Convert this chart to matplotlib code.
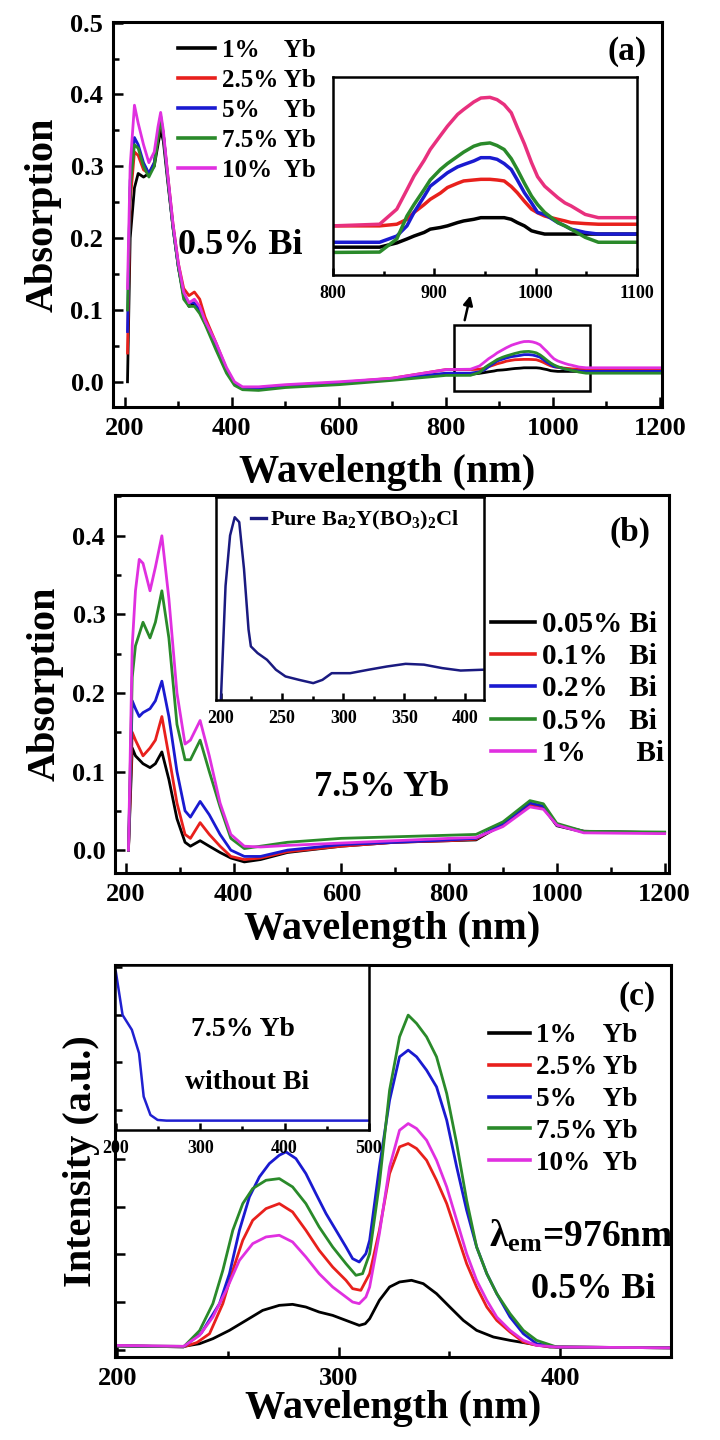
import matplotlib
matplotlib.use("Agg")
import matplotlib.pyplot as plt
from matplotlib.ticker import MultipleLocator, NullFormatter, FormatStrFormatter

plt.rcParams['font.family'] = ['Liberation Serif', 'DejaVu Serif']
plt.rcParams['font.weight'] = 'bold'
plt.rcParams['axes.labelweight'] = 'bold'
plt.rcParams['mathtext.fontset'] = 'custom'
plt.rcParams['mathtext.rm'] = 'Liberation Serif:bold'
plt.rcParams['mathtext.it'] = 'Liberation Serif:italic:bold'
plt.rcParams['mathtext.bf'] = 'Liberation Serif:bold'

# ---------------- panel (a): 0.5% Bi, varying Yb ----------------
wl_a = [205, 210, 218, 225, 235, 245, 255, 262, 267, 272, 280, 290, 300, 310,
        320, 330, 340, 350, 370, 390, 405, 420, 450, 500, 600, 700,
        800, 846, 863, 873, 880, 890, 896, 906, 913, 923, 929, 939, 946, 955,
        962, 969, 976, 982, 989, 996, 1002, 1009, 1022, 1029, 1035, 1049, 1062,
        1100, 1200]
abs_a_1 = [0.0, 0.2, 0.27, 0.29, 0.285, 0.29, 0.3, 0.33, 0.35, 0.335, 0.28, 0.215,
           0.16, 0.12, 0.105, 0.108, 0.1, 0.082, 0.05, 0.015, -0.003, -0.009,
           -0.009, -0.006, -0.002, 0.004,
           0.0105, 0.0105, 0.0118, 0.013, 0.0139, 0.015, 0.016, 0.0165, 0.017,
           0.018, 0.0185, 0.019, 0.0195, 0.0195, 0.0195, 0.0195, 0.019, 0.018,
           0.017, 0.0155, 0.015, 0.0145, 0.0145, 0.0145, 0.0145, 0.0145, 0.0145,
           0.0145, 0.0145]
abs_a_25 = [0.04, 0.25, 0.32, 0.315, 0.295, 0.29, 0.305, 0.34, 0.365, 0.345, 0.29,
            0.22, 0.165, 0.13, 0.12, 0.125, 0.115, 0.09, 0.055, 0.018, -0.002,
            -0.008, -0.008, -0.005, -0.001, 0.005,
            0.017, 0.017, 0.0175, 0.019, 0.0211, 0.0235, 0.0251, 0.027, 0.0287,
            0.03, 0.0307, 0.031, 0.0312, 0.0312, 0.031, 0.0307, 0.029, 0.0271,
            0.0245, 0.0221, 0.021, 0.02, 0.019, 0.0185, 0.018, 0.0177, 0.0175,
            0.0175, 0.0175]
abs_a_5 = [0.07, 0.28, 0.34, 0.33, 0.305, 0.29, 0.305, 0.345, 0.37, 0.345, 0.285,
           0.215, 0.16, 0.12, 0.11, 0.11, 0.1, 0.082, 0.05, 0.015, -0.003, -0.009,
           -0.009, -0.006, -0.002, 0.004,
           0.012, 0.012, 0.0139, 0.017, 0.0211, 0.026, 0.0291, 0.0315, 0.0332,
           0.035, 0.0357, 0.0368, 0.0378, 0.0378, 0.0373, 0.036, 0.0342, 0.031,
           0.0271, 0.024, 0.0211, 0.0205, 0.018, 0.017, 0.016, 0.015, 0.0145,
           0.0145, 0.0145]
abs_a_75 = [0.1, 0.27, 0.33, 0.325, 0.3, 0.285, 0.3, 0.34, 0.365, 0.345, 0.285,
            0.215, 0.16, 0.115, 0.105, 0.105, 0.095, 0.08, 0.045, 0.012, -0.005,
            -0.011, -0.012, -0.008, -0.004, 0.002,
            0.0089, 0.009, 0.013, 0.02, 0.0235, 0.0281, 0.031, 0.0342, 0.036,
            0.0382, 0.0395, 0.0413, 0.042, 0.0423, 0.0415, 0.0403, 0.0375, 0.0342,
            0.03, 0.0261, 0.0235, 0.0211, 0.018, 0.017, 0.016, 0.0135, 0.012,
            0.012, 0.012]
abs_a_10 = [0.13, 0.3, 0.385, 0.36, 0.33, 0.305, 0.32, 0.355, 0.375, 0.35, 0.29,
            0.22, 0.165, 0.125, 0.11, 0.115, 0.105, 0.085, 0.055, 0.02, 0.0,
            -0.007, -0.007, -0.004, 0.0, 0.005,
            0.017, 0.0175, 0.0221, 0.028, 0.0322, 0.037, 0.0403, 0.0445, 0.0474,
            0.051, 0.0525, 0.0548, 0.056, 0.0562, 0.0555, 0.054, 0.0515, 0.047,
            0.042, 0.0363, 0.032, 0.0291, 0.0256, 0.024, 0.0231, 0.0205, 0.0195,
            0.0195, 0.0195]
labels_a = ['1%    Yb', '2.5% Yb', '5%    Yb', '7.5% Yb', '10%  Yb']

# ---------------- panel (b): 7.5% Yb, varying Bi ----------------
wl_b = [205, 212, 218, 225, 232, 245, 255, 267, 280, 295, 310, 320, 338, 355,
        375, 395, 420, 450, 500, 600, 700, 800, 850, 900, 950, 975, 1000, 1050, 1200]
abs_b_005 = [0.0, 0.13, 0.12, 0.115, 0.11, 0.105, 0.11, 0.125, 0.09, 0.04, 0.01,
             0.005, 0.012, 0.005, -0.003, -0.01, -0.015, -0.012, -0.003, 0.005,
             0.01, 0.012, 0.013, 0.033, 0.058, 0.054, 0.031, 0.023, 0.022]
abs_b_01 = [0.0, 0.15, 0.14, 0.13, 0.12, 0.13, 0.14, 0.17, 0.12, 0.06, 0.02, 0.015,
            0.035, 0.02, 0.005, -0.008, -0.012, -0.01, -0.002, 0.005, 0.01, 0.012,
            0.014, 0.034, 0.058, 0.055, 0.032, 0.024, 0.022]
abs_b_02 = [0.0, 0.19, 0.18, 0.17, 0.175, 0.18, 0.19, 0.215, 0.17, 0.1, 0.05,
            0.042, 0.062, 0.045, 0.02, 0.0, -0.008, -0.008, 0.0, 0.007, 0.01,
            0.013, 0.015, 0.034, 0.06, 0.056, 0.032, 0.024, 0.022]
abs_b_05 = [0.0, 0.22, 0.26, 0.275, 0.29, 0.27, 0.29, 0.33, 0.27, 0.16, 0.115,
            0.115, 0.14, 0.1, 0.055, 0.015, 0.002, 0.005, 0.01, 0.015, 0.017,
            0.019, 0.02, 0.036, 0.063, 0.059, 0.034, 0.024, 0.023]
abs_b_1 = [0.0, 0.26, 0.33, 0.37, 0.365, 0.33, 0.36, 0.4, 0.32, 0.2, 0.135, 0.14,
           0.165, 0.12, 0.06, 0.02, 0.005, 0.004, 0.006, 0.009, 0.012, 0.015,
           0.016, 0.03, 0.055, 0.052, 0.032, 0.022, 0.021]
labels_b = ['0.05% Bi', '0.1%   Bi', '0.2%   Bi', '0.5%   Bi', '1%       Bi']

# inset (b): pure host
wl_pure = [200, 203.8, 207.5, 211.3, 215, 218.9, 222.6, 224.5, 230, 237.7, 245,
           252.8, 264, 275.5, 283, 290.6, 305.7, 320.7, 335.8, 351, 366, 381, 396, 414]
abs_pure = [0.0, 0.562, 0.81, 0.9, 0.876, 0.645, 0.347, 0.264, 0.231, 0.198,
            0.149, 0.116, 0.099, 0.083, 0.099, 0.132, 0.132, 0.149, 0.165, 0.178,
            0.174, 0.157, 0.145, 0.149]

# ---------------- panel (c): excitation, lambda_em = 976 nm ----------------
ex_c_1_x = [200, 230, 237.2, 243.2, 250.7, 258.2, 265.7, 273.2, 279.2, 285.2,
            291.2, 297.3, 303.3, 309.3, 312, 314.0, 318.4, 323.0, 327.5, 332.9,
            338.2, 344.2, 350.2, 356.3, 362.3, 369.9, 377.4, 386.4, 395.4, 450]
ex_c_1_y = [80, 70, 126, 231, 406, 615, 825, 930, 951, 895, 790, 720, 615, 510,
            545, 650, 1036, 1315, 1420, 1455, 1385, 1175, 895, 615, 406, 266, 196,
            126, 56, 40]
ex_c_25_x = [200, 230, 236, 241.7, 247.7, 252.2, 256.7, 261.2, 267.2, 273.2, 279.2,
             285.2, 291.2, 297.3, 303.3, 306.3, 310.0, 314.0, 318.4, 323.0, 327.5,
             331.4, 335.2, 339.7, 344.2, 348.8, 353.3, 357.8, 362.3, 366.9, 371.4,
             377.4, 383.4, 389.4, 398.5, 450]
ex_c_25_y = [80, 60, 150, 336, 966, 1664, 2294, 2713, 2958, 3063, 2888, 2504,
             2084, 1734, 1455, 1280, 1245, 1594, 2504, 3692, 4252, 4322, 4217,
             3972, 3552, 3063, 2434, 1804, 1315, 895, 615, 371, 161, 91, 56, 40]
ex_c_5_x = [200, 230, 238, 246.2, 250.7, 255.2, 259.7, 264.2, 268.7, 273.2, 276.2,
            280.7, 285.2, 289.7, 294.3, 298.8, 303.3, 306.3, 309.3, 312.3, 314.0,
            318.4, 323.0, 327.5, 331.4, 335.2, 339.7, 344.2, 348.8, 353.3, 357.8,
            362.3, 366.9, 371.4, 377.4, 383.4, 389.4, 398.5, 450]
ex_c_5_y = [80, 60, 350, 966, 1594, 2504, 3203, 3622, 3902, 4077, 4147, 4007,
            3692, 3273, 2853, 2504, 2154, 1909, 1839, 2014, 2294, 3832, 5230,
            6140, 6280, 6140, 5860, 5510, 4811, 3832, 2923, 2154, 1594, 1175, 685,
            336, 126, 56, 40]
ex_c_75_x = [200, 230, 237.2, 243.2, 247.7, 252.2, 256.7, 261.2, 267.2, 273.2,
             279.2, 285.2, 291.2, 297.3, 303.3, 307.8, 310.8, 314.0, 318.4, 323.0,
             327.5, 331.4, 335.2, 339.7, 344.2, 348.8, 353.3, 357.8, 362.3, 366.9,
             371.4, 377.4, 383.4, 389.4, 398.5, 450]
ex_c_75_y = [80, 60, 400, 966, 1664, 2504, 3063, 3378, 3552, 3587, 3413, 3063,
             2573, 2154, 1804, 1560, 1594, 2014, 3482, 5440, 6559, 7014, 6839,
             6559, 6140, 5370, 4322, 3133, 2154, 1594, 1175, 755, 406, 196, 56, 40]
ex_c_10_x = [200, 230, 237.2, 243.2, 249.2, 255.2, 261.2, 267.2, 273.2, 279.2,
             285.2, 291.2, 297.3, 303.3, 306.3, 309.3, 312.3, 314.0, 318.4, 323.0,
             327.5, 331.4, 335.2, 339.7, 344.2, 348.8, 353.3, 357.8, 362.3, 366.9,
             371.4, 377.4, 383.4, 389.4, 398.5, 450]
ex_c_10_y = [90, 70, 301, 685, 1245, 1874, 2224, 2364, 2399, 2259, 1944, 1594,
             1315, 1105, 1000, 966, 1105, 1315, 2434, 3832, 4601, 4741, 4636, 4392,
             3972, 3413, 2714, 2014, 1455, 1036, 685, 406, 196, 91, 56, 40]
labels_c = ['1%    Yb', '2.5% Yb', '5%    Yb', '7.5% Yb', '10%  Yb']

# inset (c): without Bi
ex_nobi_x = [200, 208, 219, 227.5, 233, 241, 249.5, 260, 500]
ex_nobi_y = [3.9, 2.99, 2.68, 2.19, 1.28, 0.895, 0.79, 0.776, 0.776]

colors = ['#000000', '#e8201c', '#1a1ad0', '#2a8a2a', '#e030e0']
LW = 2.0
TICK = 19


def style(ax, fs=TICK, major_len=7, minor_len=4):
    for s in ax.spines.values():
        s.set_linewidth(2.2)
    ax.tick_params(which='both', direction='in', top=False, right=False,
                   width=1.8, labelsize=fs, pad=7)
    ax.tick_params(which='major', length=major_len)
    ax.tick_params(which='minor', length=minor_len)


def legend(ax, labels, x, y, fs, spacing):
    leg = ax.legend(labels, loc='upper left', bbox_to_anchor=(x, y), frameon=False,
                    fontsize=fs, handlelength=1.5, handletextpad=0.25,
                    labelspacing=spacing, borderpad=0, borderaxespad=0)
    for ln in leg.get_lines():
        ln.set_linewidth(2.6)
    return leg


fig = plt.figure(figsize=(7.2, 14.4), dpi=100)

# ---- (a)
ax_a = fig.add_axes([0.157, 0.7174, 0.7625, 0.2674])
for ys, c in zip([abs_a_1, abs_a_25, abs_a_5, abs_a_75, abs_a_10], colors):
    ax_a.plot(wl_a, ys, color=c, lw=LW)
ax_a.set_xlim(178, 1204)
ax_a.set_ylim(-0.035, 0.501)
ax_a.xaxis.set_major_locator(MultipleLocator(200))
ax_a.xaxis.set_minor_locator(MultipleLocator(100))
ax_a.yaxis.set_major_locator(MultipleLocator(0.1))
ax_a.yaxis.set_minor_locator(MultipleLocator(0.05))
ax_a.yaxis.set_major_formatter(FormatStrFormatter('%.1f'))
style(ax_a)
ax_a.set_xlabel('Wavelength (nm)', fontsize=29, labelpad=10)
ax_a.set_ylabel('Absorption', fontsize=29, labelpad=6)
legend(ax_a, labels_a, 0.118, 0.955, 18, 0.28)
ax_a.text(0.231, 0.418, '0.5% Bi', transform=ax_a.transAxes, fontsize=26,
          ha='center', va='center')
ax_a.text(0.936, 0.922, '(a)', transform=ax_a.transAxes, fontsize=24,
          ha='center', va='center')
ax_a.add_patch(plt.Rectangle((815, -0.0125), 255, 0.0915, fill=False,
                             lw=1.8, color='black'))
ax_a.annotate('', xy=(847, 0.124), xytext=(834, 0.082),
              arrowprops=dict(arrowstyle='-|>', color='black', lw=1.8,
                              mutation_scale=14))

ins_a = fig.add_axes([0.4625, 0.809, 0.422, 0.1375])
inset_colors = ['#000000', '#e8201c', '#1a1ad0', '#2a8a2a', '#e8307e']
for ys, c in zip([abs_a_1, abs_a_25, abs_a_5, abs_a_75, abs_a_10], inset_colors):
    ins_a.plot(wl_a, ys, color=c, lw=2.5)
ins_a.set_xlim(800, 1100)
ins_a.set_ylim(0.002, 0.0624)
ins_a.xaxis.set_major_locator(MultipleLocator(100))
ins_a.xaxis.set_minor_locator(MultipleLocator(50))
ins_a.set_yticks([])
style(ins_a, fs=13, major_len=5, minor_len=3)
for s in ins_a.spines.values():
    s.set_linewidth(1.8)

# ---- (b)
ax_b = fig.add_axes([0.1597, 0.3938, 0.7694, 0.2625])
for ys, c in zip([abs_b_005, abs_b_01, abs_b_02, abs_b_05, abs_b_1], colors):
    ax_b.plot(wl_b, ys, color=c, lw=LW)
ax_b.set_xlim(180, 1208)
ax_b.set_ylim(-0.029, 0.452)
ax_b.xaxis.set_major_locator(MultipleLocator(200))
ax_b.xaxis.set_minor_locator(MultipleLocator(100))
ax_b.yaxis.set_major_locator(MultipleLocator(0.1))
ax_b.yaxis.set_minor_locator(MultipleLocator(0.05))
ax_b.yaxis.set_major_formatter(FormatStrFormatter('%.1f'))
style(ax_b)
ax_b.set_xlabel('Wavelength (nm)', fontsize=29, labelpad=4)
ax_b.set_ylabel('Absorption', fontsize=29, labelpad=6)
legend(ax_b, labels_b, 0.679, 0.693, 21, 0.18)
ax_b.text(0.482, 0.225, '7.5% Yb', transform=ax_b.transAxes, fontsize=26,
          ha='center', va='center')
ax_b.text(0.93, 0.902, '(b)', transform=ax_b.transAxes, fontsize=24,
          ha='center', va='center')

ins_b = fig.add_axes([0.30, 0.5139, 0.372, 0.141])
ins_b.plot(wl_pure, abs_pure, color='#1a1a80', lw=1.8)
ins_b.set_xlim(196, 415)
ins_b.set_ylim(0, 1)
ins_b.xaxis.set_major_locator(MultipleLocator(50))
ins_b.xaxis.set_minor_locator(MultipleLocator(25))
ins_b.set_yticks([])
style(ins_b, fs=13, major_len=5, minor_len=3)
for s in ins_b.spines.values():
    s.set_linewidth(1.8)
lb = ins_b.legend(['Pure Ba$_2$Y(BO$_3$)$_2$Cl'], loc='upper left',
                  bbox_to_anchor=(0.13, 0.94), frameon=False, fontsize=16,
                  handlelength=0.7, handletextpad=0.15, borderpad=0, borderaxespad=0)
lb.get_lines()[0].set_linewidth(2.4)

# ---- (c)
ax_c = fig.add_axes([0.1597, 0.0576, 0.772, 0.2722])
series_c = [(ex_c_1_x, ex_c_1_y), (ex_c_25_x, ex_c_25_y), (ex_c_5_x, ex_c_5_y),
            (ex_c_75_x, ex_c_75_y), (ex_c_10_x, ex_c_10_y)]
for (xs, ys), c in zip(series_c, colors):
    ax_c.plot(xs, ys, color=c, lw=LW)
ax_c.set_xlim(199, 450)
ax_c.set_ylim(-154, 8063)
ax_c.xaxis.set_major_locator(MultipleLocator(100))
ax_c.xaxis.set_minor_locator(MultipleLocator(50))
ax_c.yaxis.set_major_locator(MultipleLocator(1000))
ax_c.yaxis.set_major_formatter(NullFormatter())
style(ax_c)
ax_c.set_xlabel('Wavelength (nm)', fontsize=29, labelpad=0)
ax_c.set_ylabel('Intensity (a.u.)', fontsize=29, labelpad=4)
legend(ax_c, labels_c, 0.673, 0.851, 19.5, 0.25)
ax_c.text(0.939, 0.921, '(c)', transform=ax_c.transAxes, fontsize=24,
          ha='center', va='center')
ax_c.text(0.673, 0.309, 'λ$_{\\rm em}$=976nm', transform=ax_c.transAxes,
          fontsize=27, ha='left', va='center')
ax_c.text(0.86, 0.173, '0.5% Bi', transform=ax_c.transAxes, fontsize=26,
          ha='center', va='center')

ins_c = fig.add_axes([0.1597, 0.2153, 0.3528, 0.1146])
ins_c.plot(ex_nobi_x, ex_nobi_y, color='#2020d0', lw=1.8)
ins_c.set_xlim(199, 500)
ins_c.set_ylim(0.58, 4.04)
ins_c.xaxis.set_major_locator(MultipleLocator(100))
ins_c.xaxis.set_minor_locator(MultipleLocator(50))
ins_c.yaxis.set_major_locator(MultipleLocator(1))
ins_c.yaxis.set_major_formatter(NullFormatter())
style(ins_c, fs=13, major_len=5, minor_len=3)
for s in ins_c.spines.values():
    s.set_linewidth(1.8)
ins_c.text(0.504, 0.606, '7.5% Yb', transform=ins_c.transAxes, fontsize=20,
           ha='center', va='center')
ins_c.text(0.52, 0.285, 'without Bi', transform=ins_c.transAxes, fontsize=20,
           ha='center', va='center')

fig.savefig('out.png', dpi=100)
